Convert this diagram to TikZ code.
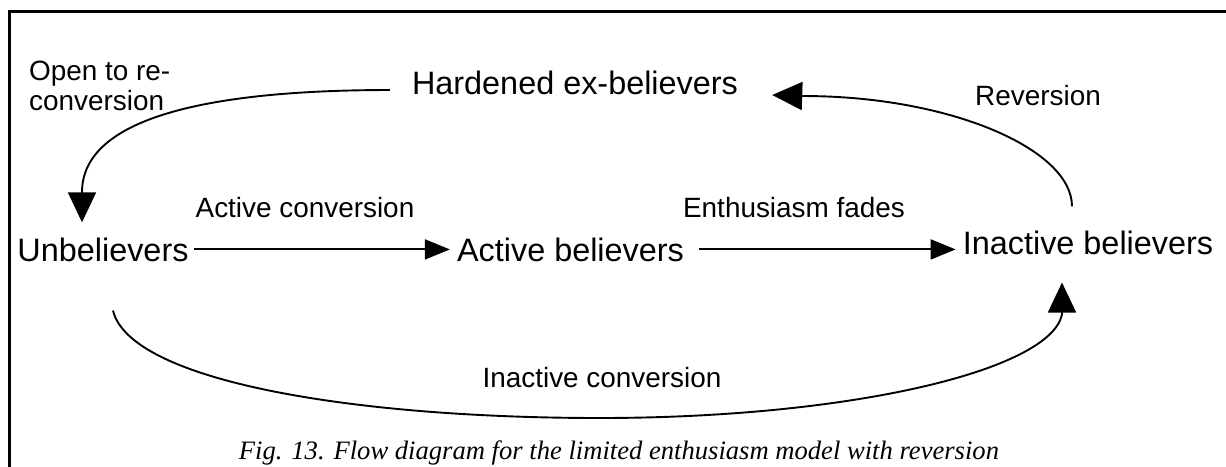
\documentclass[tikz,border=0pt]{standalone}
\usepackage{fontspec}
\setmainfont{Liberation Sans}
\newfontfamily\capfont{Liberation Serif}
\usetikzlibrary{arrows.meta,calc}
\tikzset{
  state/.style={inner sep=0pt, anchor=base, font=\fontsize{32.4}{38}\selectfont},
  lbl/.style={inner sep=0pt, anchor=base, font=\fontsize{27.9}{30}\selectfont},
  flow/.style={line width=1.9pt, -{Triangle[length=25pt,width=20pt]}},
  loop/.style={line width=1.9pt, -{Triangle[length=30pt,width=28pt]}},
  frame/.style={line width=2.5pt},
}
\begin{document}
\begin{tikzpicture}[x=1pt,y=-1pt]
\useasboundingbox (0,0) rectangle (1226,466);
\draw[frame] (9.5,470) -- (9.5,11.3) -- (1230,11.3);

\node[state] (hx) at (575,94) {Hardened ex-believers};
\node[state] (ub) at (103,261) {Unbelievers};
\node[state] (ab) at (570.5,261) {Active believers};
\node[state] (ib) at (1088,254) {Inactive believers};

\node[lbl, anchor=base west, align=left] (ol) at (29,110) {Open to re-\\conversion};
\node[lbl] (rl) at (1038,105) {Reversion};
\node[lbl] (al) at (305,217) {Active conversion};
\node[lbl] (el) at (794,217) {Enthusiasm fades};
\node[lbl] (il) at (602,387) {Inactive conversion};
\node[inner sep=0pt, anchor=base, font=\capfont\itshape\fontsize{26.6}{30}\selectfont] (cap) at (619,459)
  {Fig. 13. Flow diagram for the limited enthusiasm model with reversion};

\draw[flow, shorten <=5pt, shorten >=7pt] (ub.east) -- (ub.east -| ab.west);
\draw[flow, shorten <=15pt, shorten >=7pt] (ab.east) -- (ab.east -| ib.west);

\draw[loop] ($(hx.west)+(-22,7.6)$) .. controls +(-180,0) and +(0,-75) .. ($(ub.north)+(-21,-45)$) -- ($(ub.north)+(-21,-15)$);
\draw[loop] ($(ib.north)+(-16,-24)$) .. controls +(0,-57) and +(147,0) .. ($(hx.east)+(65,13.6)$) -- ($(hx.east)+(34,12.6)$);
\coordinate (low) at (600,418);
\draw[loop] ($(ub.south)+(10,49)$) .. controls +(17,70) and +(-250,0) .. (low) .. controls +(250,0) and +(-12,56) .. ($(ib.south)+(-26,60)$) -- ($(ib.south)+(-26,28)$);
\end{tikzpicture}
\end{document}
